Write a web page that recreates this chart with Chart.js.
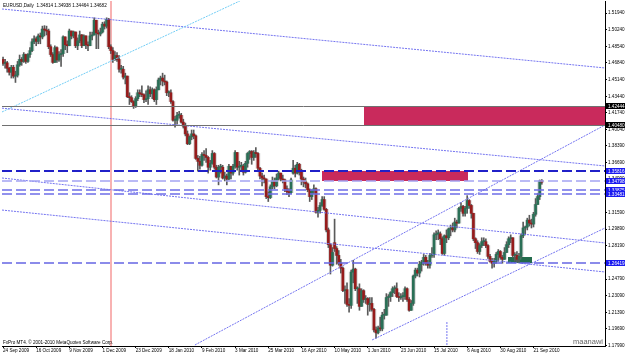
<!DOCTYPE html>
<html>
<head>
<meta charset="utf-8">
<script src="https://cdn.jsdelivr.net/npm/chart.js@4.4.1/dist/chart.umd.min.js"></script>
<style>
	html, body { margin: 0; padding: 0; background: #fff; overflow: hidden; }
	#wrap { width: 625px; height: 355px; }
</style>
</head>
<body>
<div id="wrap"><canvas id="chart" width="625" height="355"></canvas></div>
<script>
( function () {
	'use strict';

	// EURUSD daily, 24 Sep 2009 .. 27 Sep 2010
	const opens = [
		1.4720,1.4680,1.4685,1.4630,1.4590,1.4640,1.4550,1.4560,1.4665,1.4720,
		1.4700,1.4770,1.4700,1.4770,1.4810,1.4900,1.4930,1.4905,1.4960,1.4950,
		1.5030,1.5020,1.5010,1.4850,1.4770,1.4690,1.4840,1.4715,1.4770,1.4780,
		1.4950,1.4870,1.4860,1.5010,1.4960,1.5000,1.4860,1.4910,1.4970,1.4860,
		1.4960,1.4870,1.4860,1.4960,1.4970,1.5120,1.4990,1.4980,1.5000,1.5080,
		1.5060,1.5130,1.4850,1.4810,1.4720,1.4760,1.4720,1.4620,1.4620,1.4540,
		1.4550,1.4340,1.4330,1.4290,1.4240,1.4320,1.4380,1.4370,1.4360,1.4310,
		1.4320,1.4410,1.4370,1.4410,1.4310,1.4410,1.4510,1.4530,1.4500,1.4490,
		1.4380,1.4380,1.4290,1.4100,1.4100,1.4150,1.4150,1.4080,1.4040,1.3960,
		1.3860,1.3930,1.3960,1.3940,1.3710,1.3680,1.3640,1.3750,1.3740,1.3720,
		1.3620,1.3660,1.3760,1.3620,1.3520,1.3620,1.3620,1.3510,1.3530,1.3500,
		1.3630,1.3560,1.3630,1.3770,1.3620,1.3630,1.3630,1.3570,1.3660,1.3760,
		1.3780,1.3720,1.3770,1.3760,1.3610,1.3530,1.3510,1.3500,1.3320,1.3310,
		1.3420,1.3480,1.3430,1.3510,1.3560,1.3500,1.3490,1.3400,1.3370,1.3360,
		1.3560,1.3610,1.3560,1.3650,1.3570,1.3500,1.3470,1.3450,1.3390,1.3320,
		1.3380,1.3400,1.3160,1.3180,1.3230,1.3290,1.3190,1.2980,1.2830,1.2620,
		1.2850,1.2790,1.2720,1.2640,1.2590,1.2360,1.2370,1.2220,1.2210,1.2550,
		1.2580,1.2380,1.2380,1.2200,1.2360,1.2270,1.2280,1.2220,1.2230,1.2170,
		1.1960,1.1930,1.1980,1.1970,1.2110,1.2110,1.2290,1.2300,1.2340,1.2380,
		1.2380,1.2300,1.2290,1.2300,1.2300,1.2380,1.2270,1.2160,1.2230,1.2510,
		1.2570,1.2540,1.2630,1.2650,1.2700,1.2640,1.2620,1.2720,1.2730,1.2930,
		1.2940,1.2940,1.2890,1.2740,1.2920,1.2900,1.2990,1.3000,1.2980,1.3060,
		1.3050,1.3200,1.3220,1.3150,1.3200,1.3280,1.3230,1.3150,1.2890,1.2850,
		1.2760,1.2820,1.2860,1.2860,1.2820,1.2710,1.2660,1.2640,1.2660,1.2730,
		1.2760,1.2700,1.2680,1.2750,1.2830,1.2890,1.2900,1.2720,1.2720,1.2680,
		1.2710,1.2920,1.3000,1.3010,1.3080,1.3050,1.3040,1.3140,1.3240,1.3320,
		1.3481
	];
	const highs = [
		1.4745,1.4720,1.4700,1.4640,1.4660,1.4660,1.4600,1.4700,1.4765,1.4740,
		1.4790,1.4775,1.4780,1.4840,1.4930,1.4960,1.4950,1.4980,1.4990,1.5060,
		1.5065,1.5060,1.5030,1.4870,1.4790,1.4860,1.4850,1.4800,1.4820,1.4960,
		1.4950,1.4910,1.5030,1.5010,1.5010,1.5000,1.4940,1.5010,1.4975,1.4970,
		1.4960,1.4900,1.5000,1.5000,1.5145,1.5120,1.5020,1.5040,1.5100,1.5105,
		1.5145,1.5140,1.4870,1.4840,1.4800,1.4790,1.4760,1.4660,1.4650,1.4580,
		1.4550,1.4380,1.4350,1.4300,1.4340,1.4410,1.4410,1.4450,1.4370,1.4400,
		1.4450,1.4440,1.4430,1.4420,1.4440,1.4530,1.4550,1.4580,1.4560,1.4500,
		1.4400,1.4410,1.4300,1.4140,1.4180,1.4190,1.4170,1.4110,1.4070,1.3990,
		1.3940,1.4000,1.4000,1.3950,1.3740,1.3730,1.3770,1.3790,1.3810,1.3730,
		1.3690,1.3790,1.3770,1.3640,1.3640,1.3650,1.3640,1.3570,1.3550,1.3650,
		1.3630,1.3650,1.3790,1.3770,1.3680,1.3670,1.3650,1.3680,1.3770,1.3790,
		1.3790,1.3790,1.3820,1.3770,1.3620,1.3560,1.3540,1.3500,1.3370,1.3440,
		1.3520,1.3510,1.3550,1.3580,1.3560,1.3540,1.3500,1.3430,1.3400,1.3510,
		1.3690,1.3640,1.3670,1.3660,1.3600,1.3520,1.3510,1.3460,1.3400,1.3390,
		1.3440,1.3410,1.3210,1.3260,1.3320,1.3320,1.3200,1.3000,1.2840,1.2800,
		1.3090,1.2810,1.2770,1.2680,1.2600,1.2410,1.2440,1.2280,1.2570,1.2670,
		1.2590,1.2400,1.2430,1.2380,1.2370,1.2310,1.2290,1.2290,1.2290,1.2180,
		1.1990,1.2000,1.2090,1.2140,1.2170,1.2330,1.2320,1.2350,1.2400,1.2410,
		1.2440,1.2340,1.2330,1.2340,1.2400,1.2390,1.2290,1.2260,1.2520,1.2590,
		1.2590,1.2660,1.2670,1.2730,1.2720,1.2670,1.2740,1.2800,1.2950,1.2970,
		1.2980,1.2960,1.2910,1.2930,1.2980,1.3000,1.3030,1.3050,1.3100,1.3080,
		1.3210,1.3260,1.3230,1.3220,1.3330,1.3290,1.3240,1.3150,1.2900,1.2870,
		1.2840,1.2900,1.2900,1.2890,1.2830,1.2730,1.2690,1.2690,1.2750,1.2780,
		1.2770,1.2720,1.2800,1.2860,1.2910,1.2930,1.2900,1.2750,1.2760,1.2740,
		1.2940,1.3060,1.3020,1.3100,1.3130,1.3090,1.3160,1.3300,1.3350,1.3490,
		1.3494
	];
	const lows = [
		1.4660,1.4630,1.4590,1.4560,1.4530,1.4530,1.4485,1.4540,1.4650,1.4660,
		1.4690,1.4680,1.4690,1.4740,1.4800,1.4880,1.4860,1.4880,1.4880,1.4930,
		1.4960,1.4970,1.4830,1.4750,1.4680,1.4690,1.4690,1.4700,1.4650,1.4750,
		1.4820,1.4790,1.4860,1.4930,1.4940,1.4840,1.4820,1.4890,1.4840,1.4860,
		1.4830,1.4810,1.4860,1.4920,1.4970,1.4830,1.4830,1.4960,1.4990,1.5030,
		1.5040,1.4830,1.4780,1.4690,1.4710,1.4700,1.4590,1.4580,1.4520,1.4470,
		1.4330,1.4260,1.4280,1.4220,1.4230,1.4300,1.4340,1.4340,1.4280,1.4290,
		1.4260,1.4340,1.4320,1.4290,1.4260,1.4410,1.4460,1.4450,1.4460,1.4350,
		1.4340,1.4270,1.4090,1.4030,1.4060,1.4120,1.4070,1.4020,1.3940,1.3850,
		1.3850,1.3900,1.3910,1.3700,1.3580,1.3600,1.3630,1.3690,1.3670,1.3560,
		1.3590,1.3650,1.3600,1.3510,1.3440,1.3560,1.3500,1.3480,1.3440,1.3490,
		1.3500,1.3540,1.3610,1.3590,1.3540,1.3590,1.3540,1.3560,1.3620,1.3700,
		1.3650,1.3690,1.3720,1.3580,1.3500,1.3430,1.3460,1.3300,1.3270,1.3300,
		1.3400,1.3400,1.3420,1.3490,1.3480,1.3460,1.3370,1.3340,1.3320,1.3350,
		1.3550,1.3520,1.3550,1.3540,1.3440,1.3420,1.3410,1.3370,1.3270,1.3290,
		1.3350,1.3150,1.3110,1.3150,1.3220,1.3180,1.2960,1.2800,1.2530,1.2610,
		1.2760,1.2630,1.2620,1.2540,1.2350,1.2230,1.2200,1.2140,1.2180,1.2440,
		1.2360,1.2230,1.2160,1.2200,1.2240,1.2230,1.2110,1.2150,1.2150,1.1940,
		1.1876,1.1920,1.1950,1.1950,1.2070,1.2110,1.2200,1.2250,1.2300,1.2330,
		1.2290,1.2250,1.2270,1.2250,1.2270,1.2250,1.2150,1.2160,1.2210,1.2490,
		1.2510,1.2500,1.2560,1.2620,1.2620,1.2590,1.2590,1.2700,1.2700,1.2880,
		1.2880,1.2830,1.2730,1.2720,1.2850,1.2880,1.2920,1.2960,1.2960,1.3000,
		1.3050,1.3170,1.3120,1.3120,1.3150,1.3200,1.3100,1.2870,1.2790,1.2740,
		1.2730,1.2800,1.2820,1.2800,1.2690,1.2650,1.2590,1.2600,1.2640,1.2660,
		1.2680,1.2640,1.2680,1.2750,1.2800,1.2850,1.2700,1.2660,1.2650,1.2650,
		1.2700,1.2900,1.2930,1.2980,1.3020,1.3000,1.3010,1.3120,1.3240,1.3290,
		1.3446
	];
	const closes = [
		1.4680,1.4685,1.4630,1.4590,1.4640,1.4550,1.4560,1.4665,1.4720,1.4700,
		1.4770,1.4700,1.4770,1.4810,1.4900,1.4930,1.4905,1.4960,1.4950,1.5030,
		1.5020,1.5010,1.4850,1.4770,1.4690,1.4840,1.4715,1.4770,1.4780,1.4950,
		1.4870,1.4860,1.5010,1.4960,1.5000,1.4860,1.4910,1.4970,1.4860,1.4960,
		1.4870,1.4860,1.4960,1.4970,1.5120,1.4990,1.4980,1.5000,1.5080,1.5060,
		1.5130,1.4850,1.4810,1.4720,1.4760,1.4720,1.4620,1.4620,1.4540,1.4550,
		1.4340,1.4330,1.4290,1.4240,1.4320,1.4380,1.4370,1.4360,1.4310,1.4320,
		1.4410,1.4370,1.4410,1.4310,1.4410,1.4510,1.4530,1.4500,1.4490,1.4380,
		1.4380,1.4290,1.4100,1.4100,1.4150,1.4150,1.4080,1.4040,1.3960,1.3860,
		1.3930,1.3960,1.3940,1.3710,1.3680,1.3640,1.3750,1.3740,1.3720,1.3620,
		1.3660,1.3760,1.3620,1.3520,1.3620,1.3620,1.3510,1.3530,1.3500,1.3630,
		1.3560,1.3630,1.3770,1.3620,1.3630,1.3630,1.3570,1.3660,1.3760,1.3780,
		1.3720,1.3770,1.3760,1.3610,1.3530,1.3510,1.3500,1.3320,1.3310,1.3420,
		1.3480,1.3430,1.3510,1.3560,1.3500,1.3490,1.3400,1.3370,1.3360,1.3490,
		1.3610,1.3560,1.3650,1.3570,1.3500,1.3470,1.3450,1.3390,1.3320,1.3380,
		1.3400,1.3160,1.3180,1.3230,1.3290,1.3190,1.2980,1.2830,1.2620,1.2750,
		1.2790,1.2720,1.2640,1.2590,1.2360,1.2370,1.2220,1.2210,1.2550,1.2580,
		1.2380,1.2380,1.2200,1.2360,1.2270,1.2280,1.2220,1.2230,1.2170,1.1960,
		1.1930,1.1980,1.1970,1.2110,1.2110,1.2290,1.2300,1.2340,1.2380,1.2380,
		1.2300,1.2290,1.2300,1.2300,1.2380,1.2270,1.2160,1.2230,1.2510,1.2570,
		1.2540,1.2630,1.2650,1.2700,1.2640,1.2620,1.2720,1.2730,1.2930,1.2940,
		1.2940,1.2890,1.2740,1.2920,1.2900,1.2990,1.3000,1.2980,1.3060,1.3050,
		1.3200,1.3220,1.3150,1.3200,1.3280,1.3230,1.3150,1.2890,1.2850,1.2760,
		1.2820,1.2860,1.2860,1.2820,1.2710,1.2660,1.2640,1.2660,1.2730,1.2760,
		1.2700,1.2680,1.2750,1.2830,1.2890,1.2900,1.2720,1.2720,1.2680,1.2710,
		1.2920,1.3000,1.3010,1.3080,1.3050,1.3040,1.3140,1.3240,1.3320,1.3480,
		1.3468
	];

	// one tick label every 16 bars
	const dateTicks = [
		'24 Sep 2009', '16 Oct 2009', '9 Nov 2009', '1 Dec 2009', '23 Dec 2009',
		'18 Jan 2010', '9 Feb 2010', '3 Mar 2010', '25 Mar 2010', '16 Apr 2010',
		'10 May 2010', '1 Jun 2010', '23 Jun 2010', '15 Jul 2010', '6 Aug 2010',
		'30 Aug 2010', '21 Sep 2010'
	];
	const tickEvery = 16;
	const slotCount = 291; // bars plus the empty shift on the right

	const priceTicks = [
		1.51940, 1.50240, 1.48540, 1.46840, 1.45140, 1.43440, 1.41740, 1.40040,
		1.38390, 1.36690, 1.34990, 1.33290, 1.31590, 1.29890, 1.28190, 1.26490,
		1.24790, 1.23090, 1.21390, 1.19690, 1.17990
	];
	const priceMin = 1.17955;
	const priceMax = 1.53165;

	const title = 'EURUSD,Daily  1.34814 1.34938 1.34464 1.34682';

	// drawn objects: [barIndex, price] pairs
	const trendLines = [
		{ from: [ -0.5, 1.5235 ], to: [ 290.5, 1.4633 ], color: '#7474f0' },
		{ from: [ -0.5, 1.4184 ], to: [ 114.3, 1.5317 ], color: '#72cdf5' },
		{ from: [ -0.5, 1.4223 ], to: [ 290.5, 1.3633 ], color: '#7474f0' },
		{ from: [ 92.6, 1.1806 ], to: [ 290.5, 1.4051 ], color: '#7474f0' },
		{ from: [ 178.1, 1.1857 ], to: [ 290.5, 1.3000 ], color: '#7474f0' },
		{ from: [ -0.5, 1.3183 ], to: [ 290.5, 1.2551 ], color: '#7474f0' },
		{ from: [ -0.5, 1.3510 ], to: [ 290.5, 1.2847 ], color: '#7474f0' },
		{ from: [ 214.2, 1.2040 ], to: [ 214.2, 1.1796 ], color: '#7474f0' }
	];
	const solidLevels = [ 1.42444, 1.40480 ];
	const dashLevels  = [ 1.35816, 1.34798, 1.33875, 1.33481, 1.26419 ];
	const dashColors  = [ '#2020c8', '#a4a4f2', '#6e6ee8', '#6e6ee8', '#6666e4' ];
	const zones = [
		{ x0: 174, x1: 291, top: 1.42444, bottom: 1.40480, color: '#c92a5c' },
		{ x0: 154, x1: 224.5, top: 1.35816, bottom: 1.34798, color: '#c92a5c' },
		{ x0: 243.5, x1: 255.5, top: 1.2700, bottom: 1.26419, color: '#236b4c' }
	];
	const markerBar = 52; // pink vertical line

	const FONT = "'Liberation Sans', Arial, sans-serif";
	const BULL = '#2a6f56', BEAR = '#961c1c', WICK = '#5a5a5a', HALO = 'rgba(150,150,150,0.4)';

	function clipArea( ctx, a ) {
		ctx.beginPath();
		ctx.rect( a.left, a.top, a.right - a.left, a.bottom - a.top );
		ctx.clip();
	}

	const overlay = {
		id: 'overlay',
		beforeDatasetsDraw( chart ) {
			const { ctx, chartArea: a, scales: { x, y } } = chart;
			ctx.save();
			clipArea( ctx, a );
			zones.forEach( function ( z ) {
				const x0 = Math.round( x.getPixelForValue( z.x0 ) ), x1 = Math.round( x.getPixelForValue( z.x1 ) );
				const y0 = Math.round( y.getPixelForValue( z.top ) ), y1 = Math.round( y.getPixelForValue( z.bottom ) );
				ctx.fillStyle = z.color;
				ctx.fillRect( x0, y0, x1 - x0, y1 - y0 );
			} );
			const mx = Math.round( x.getPixelForValue( markerBar ) );
			ctx.fillStyle = '#f8b2b2';
			ctx.fillRect( mx - 1, a.top, 2, a.bottom - a.top );
			ctx.restore();
		},
		afterDatasetsDraw( chart ) {
			const { ctx, chartArea: a, scales: { x, y } } = chart;
			ctx.save();
			clipArea( ctx, a );

			ctx.lineWidth = 1;
			ctx.setLineDash( [ 2, 1 ] );
			trendLines.forEach( function ( t ) {
				ctx.strokeStyle = t.color;
				ctx.beginPath();
				ctx.moveTo( x.getPixelForValue( t.from[0] ), y.getPixelForValue( t.from[1] ) );
				ctx.lineTo( x.getPixelForValue( t.to[0] ), y.getPixelForValue( t.to[1] ) );
				ctx.stroke();
			} );

			ctx.setLineDash( [] );
			ctx.strokeStyle = '#707070';
			solidLevels.forEach( function ( p ) {
				const py = Math.round( y.getPixelForValue( p ) ) + 0.5;
				ctx.beginPath();
				ctx.moveTo( a.left, py );
				ctx.lineTo( a.right, py );
				ctx.stroke();
			} );

			ctx.setLineDash( [ 10, 4 ] );
			dashLevels.forEach( function ( p, i ) {
				const py = Math.round( y.getPixelForValue( p ) );
				ctx.strokeStyle = dashColors[ i ];
				ctx.lineWidth = i === 0 ? 2 : 1.5;
				ctx.beginPath();
				ctx.moveTo( a.left, py );
				ctx.lineTo( a.right, py );
				ctx.stroke();
			} );

			ctx.setLineDash( [] );
			ctx.lineWidth = 1;
			ctx.strokeStyle = '#777';
			ctx.strokeRect( a.left - 0.5, a.top - 0.5, a.right - a.left + 1, a.bottom - a.top + 1 );
			ctx.restore();
		},
		afterDraw( chart ) {
			const { ctx, chartArea: a, scales: { y } } = chart;
			ctx.save();
			ctx.font = '4.6px ' + FONT;
			ctx.textBaseline = 'middle';

			function tag( price, bg ) {
				const py = Math.round( y.getPixelForValue( price ) );
				ctx.fillStyle = bg;
				ctx.fillRect( a.right + 1, py - 3, 20, 6 );
				ctx.fillStyle = '#fff';
				ctx.fillText( price.toFixed( 5 ), a.right + 3, py + 0.3 );
			}
			solidLevels.forEach( function ( p ) { tag( p, '#000' ); } );
			dashLevels.forEach( function ( p ) { tag( p, '#1a1af0' ); } );

			ctx.fillStyle = '#000';
			ctx.textBaseline = 'alphabetic';
			ctx.fillText( title, 3, 7 );
			ctx.fillText( 'FxPro MT4. \u00a9 2001-2010 MetaQuotes Software Corp.', 3, a.bottom - 2 );

			ctx.font = '7.5px ' + FONT;
			ctx.fillStyle = '#666';
			ctx.textAlign = 'right';
			ctx.fillText( 'maanawi', a.right - 2, a.bottom - 2 );
			ctx.restore();
		}
	};

	const labels = Array.from( { length: slotCount }, function ( _, i ) { return i; } );
	const bodyRange = opens.map( function ( o, i ) { return [ o, closes[ i ] ]; } );

	new Chart( document.getElementById( 'chart' ), {
		type: 'bar',
		data: {
			labels: labels,
			datasets: [ {
				label:           'halo',
				data:            bodyRange,
				backgroundColor: HALO,
				barThickness:    4,
				minBarLength:    1,
				grouped:         false,
				order:           3,
			}, {
				label:           'wick',
				data:            lows.map( function ( l, i ) { return [ l, highs[ i ] ]; } ),
				backgroundColor: WICK,
				barThickness:    1,
				grouped:         false,
				order:           2,
			}, {
				label:           'body',
				data:            bodyRange,
				backgroundColor: opens.map( function ( o, i ) { return closes[ i ] >= o ? BULL : BEAR; } ),
				barThickness:    2,
				minBarLength:    1,
				grouped:         false,
				order:           1,
			} ],
		},
		options: {
			responsive:       false,
			animation:        false,
			devicePixelRatio: 1,
			layout:           { padding: { left: 2, top: 1, right: 0, bottom: 0 } },
			plugins: {
				legend:  { display: false },
				tooltip: { enabled: false },
			},
			scales: {
				x: {
					type:   'category',
					offset: true,
					border: { display: true, color: '#000' },
					grid: {
						offset:          false,
						drawOnChartArea: false,
						tickLength:      2,
						color: function ( c ) {
							return ( c.index % tickEvery === 0 && c.index / tickEvery < dateTicks.length ) ? '#000' : 'rgba(0,0,0,0)';
						},
					},
					ticks: {
						autoSkip:    false,
						maxRotation: 0,
						minRotation: 0,
						align:       'start',
						padding:     0,
						color:       '#000',
						font:        { family: FONT, size: 4.6 },
						callback: function ( v, i ) {
							return i % tickEvery === 0 ? ( dateTicks[ i / tickEvery ] || '' ) : '';
						},
					},
					afterFit: function ( s ) {
						s.height = 9;
						s.paddingLeft = 0;
						s.paddingRight = 0;
					},
				},
				y: {
					position: 'right',
					min:      priceMin,
					max:      priceMax,
					border:   { display: true, color: '#000' },
					grid: {
						drawOnChartArea: false,
						tickLength:      2,
						color:           '#000',
					},
					ticks: {
						padding: 1,
						color:   '#000',
						font:    { family: FONT, size: 4.6 },
						callback: function ( v ) { return Number( v ).toFixed( 5 ); },
					},
					afterBuildTicks: function ( s ) {
						s.ticks = priceTicks.map( function ( v ) { return { value: v }; } );
					},
					afterFit: function ( s ) {
						s.width = 20;
						s.paddingTop = 0;
						s.paddingBottom = 0;
					},
				},
			},
		},
		plugins: [ overlay ],
	} );
} )();
</script>
</body>
</html>
